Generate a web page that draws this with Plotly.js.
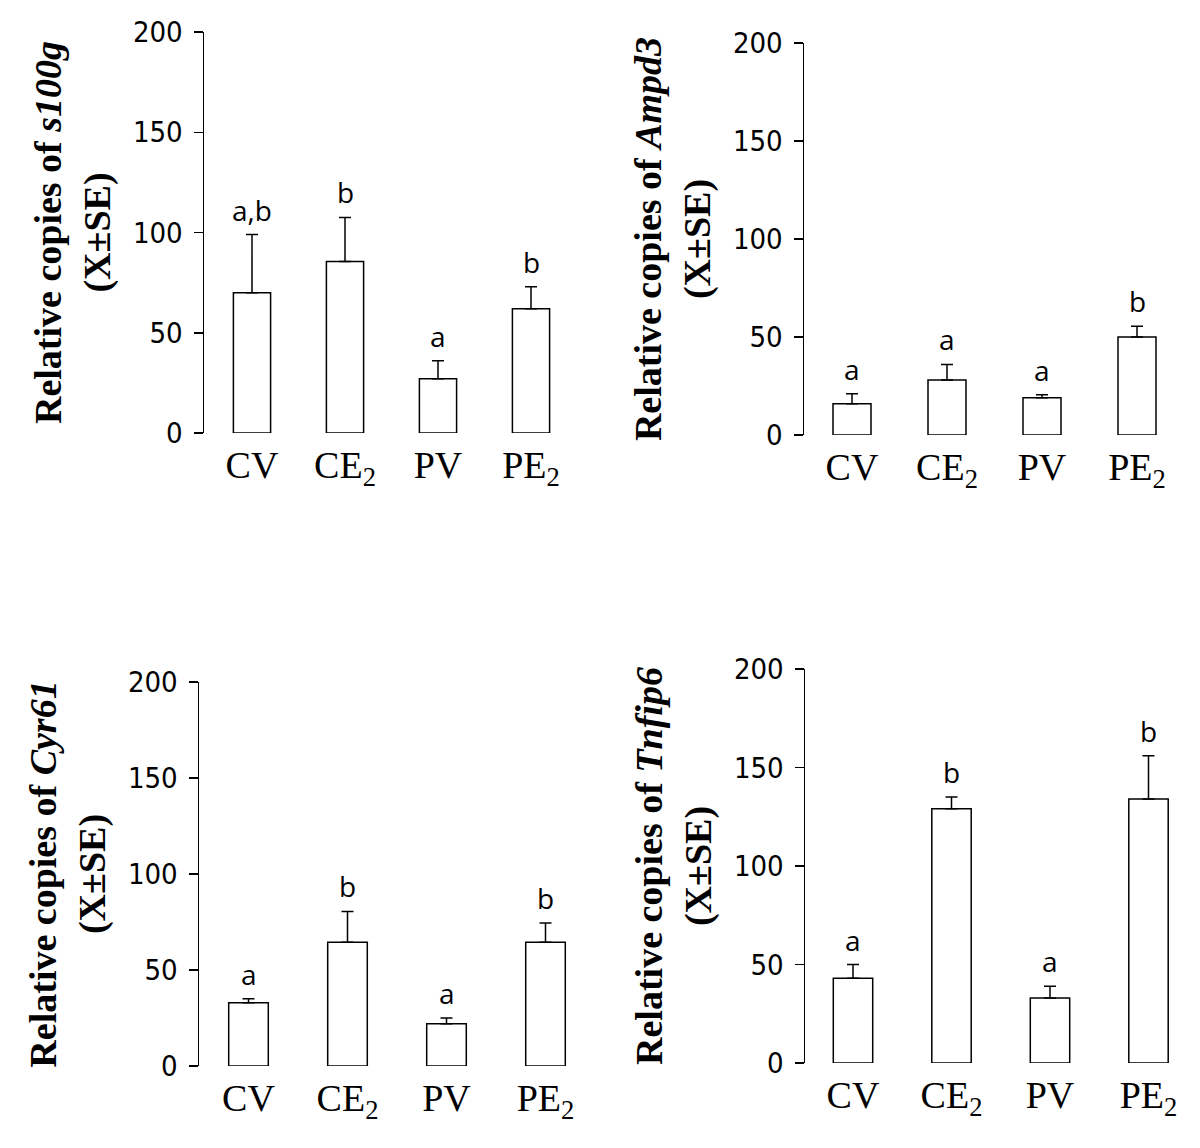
<!DOCTYPE html>
<html>
<head>
<meta charset="utf-8">
<script src="https://cdn.plot.ly/plotly-3.0.1.min.js"></script>
<style>html,body{margin:0;padding:0;background:#fff;}#chart{width:1200px;height:1148px;}</style>
</head>
<body>
<div id="chart"></div>
<script>
// ---- data ----
const groups = ['CV', 'CE2', 'PV', 'PE2'];
const groupLabels = ['CV', 'CE<sub>2</sub>', 'PV', 'PE<sub>2</sub>'];
const genes = ['s100g', 'Ampd3', 'Cyr61', 'Tnfip6'];

const s100gMean = [70, 85.5, 27, 62];
const s100gSE = [29, 22, 9, 11];
const s100gLetters = ['a,b', 'b', 'a', 'b'];

const ampd3Mean = [16, 28, 19, 50];
const ampd3SE = [5, 8, 1.5, 5.5];
const ampd3Letters = ['a', 'a', 'a', 'b'];

const cyr61Mean = [33, 64.5, 22, 64.5];
const cyr61SE = [2, 16, 3, 10];
const cyr61Letters = ['a', 'b', 'a', 'b'];

const tnfip6Mean = [43, 129, 33, 134];
const tnfip6SE = [7, 6, 6, 22];
const tnfip6Letters = ['a', 'b', 'a', 'b'];

const yTicks = [0, 50, 100, 150, 200];

// ---- layout helpers (pixel geometry) ----
const W = 1200, H = 1148;
const panels = [
  {mean: s100gMean, se: s100gSE, letters: s100gLetters, gene: genes[0], axisX: 204, spacing: 93, yTop: 32, yBot: 433},
  {mean: ampd3Mean, se: ampd3SE, letters: ampd3Letters, gene: genes[1], axisX: 804, spacing: 95, yTop: 43, yBot: 435},
  {mean: cyr61Mean, se: cyr61SE, letters: cyr61Letters, gene: genes[2], axisX: 199, spacing: 99, yTop: 682, yBot: 1066},
  {mean: tnfip6Mean, se: tnfip6SE, letters: tnfip6Letters, gene: genes[3], axisX: 805, spacing: 98.5, yTop: 669, yBot: 1063}
];
const firstCenter = [252, 852, 248.5, 853];

const xIdx = groups.map((g, i) => i);
const traces = [];
const annotations = [];
const layout = {
  width: W, height: H,
  margin: {l: 0, r: 0, t: 0, b: 0},
  paper_bgcolor: '#fff', plot_bgcolor: '#fff',
  showlegend: false,
  annotations: annotations
};

panels.forEach((p, k) => {
  const n = k === 0 ? '' : String(k + 1);
  const r0 = -(firstCenter[k] - p.axisX) / p.spacing;
  const right = p.axisX + (3.5 - r0) * p.spacing;
  traces.push({
    type: 'bar',
    x: xIdx, y: p.mean,
    xaxis: 'x' + n, yaxis: 'y' + n,
    width: 0.4,
    marker: {color: '#ffffff', line: {color: '#000', width: 1.5}},
    error_y: {type: 'data', symmetric: false, array: p.se, arrayminus: p.se.map(() => 0),
              color: '#000', thickness: 1.5, width: 6},
    hoverinfo: 'skip'
  });
  layout['xaxis' + n] = {
    domain: [p.axisX / W, right / W],
    anchor: 'y' + n,
    range: [r0, 3.5],
    tickvals: xIdx, ticktext: groupLabels,
    showline: false, showgrid: false, zeroline: false, ticks: '',
    ticklabelstandoff: 6,
    tickfont: {family: '"Liberation Serif", "Times New Roman", serif', size: 38, color: '#000'}
  };
  layout['yaxis' + n] = {
    domain: [1 - p.yBot / H, 1 - p.yTop / H],
    anchor: 'x' + n,
    range: [0, 200],
    tickvals: yTicks,
    showline: true, linewidth: 1.5, linecolor: '#000',
    ticks: 'outside', ticklen: 9, tickwidth: 1.5, tickcolor: '#000',
    ticklabelstandoff: 5,
    showgrid: false, zeroline: false,
    tickfont: {family: '"Liberation Sans Narrow", "Arial Narrow", "DejaVu Sans Condensed", sans-serif', size: 29, color: '#000'},
    title: {
      text: '<b>Relative copies of <i>' + p.gene + '</i></b><br><b>(X±SE)</b>',
      font: {family: '"Liberation Serif", "Times New Roman", serif', size: 38, color: '#000'},
      standoff: 10
    }
  };
  p.mean.forEach((m, i) => {
    annotations.push({
      xref: 'x' + n, yref: 'y' + n,
      x: i, y: m + p.se[i],
      text: p.letters[i], showarrow: false,
      yanchor: 'bottom', yshift: 4,
      font: {family: '"Open Sans", "Noto Sans", sans-serif', size: 28, color: '#000'}
    });
  });
});

Plotly.newPlot('chart', traces, layout, {staticPlot: true, displayModeBar: false});
</script>
</body>
</html>
